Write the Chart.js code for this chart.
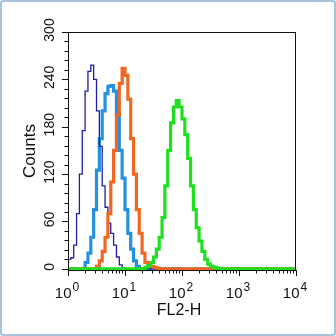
<!DOCTYPE html>
<html>
<head>
<meta charset="utf-8">
<script src="https://cdn.jsdelivr.net/npm/chart.js@4.4.0/dist/chart.umd.min.js"></script>
<style>
    html, body { margin: 0; padding: 0; background: #fff; }
    #wrap { position: relative; width: 336px; height: 336px; }
    #frame {
        position: absolute; left: 0; top: 0; width: 336px; height: 336px;
        box-sizing: border-box; border: 2px solid #a7c3de; border-radius: 3px;
        pointer-events: none;
    }
    canvas { position: absolute; left: 0; top: 0; }
</style>
</head>
<body>
<div id="wrap">
    <canvas id="chart" width="336" height="336"></canvas>
    <div id="frame"></div>
</div>
<script>
// Histogram bins: 80 bins of 0.05 decade from 10^0 to 10^4
const binCount = 80;
const binWidth = 0.05;

// Counts per bin, each series starting at a given bin index
const navyStart = 0;
const navyCounts = [12, 14, 30, 70, 120, 175, 225, 250, 258, 240, 200, 155, 105, 78, 58, 45, 30, 15, 5, 1];

const blueStart = 6;
const blueCounts = [8, 20, 40, 75, 125, 165, 200, 222, 231, 232, 225, 195, 150, 115, 75, 45, 25, 10, 3];

const orangeStart = 10;
const orangeCounts = [3, 10, 22, 40, 70, 110, 150, 195, 235, 254, 245, 215, 165, 120, 75, 45, 20, 8, 5, 3, 2, 1];

const greenStart = 27;
const greenCounts = [2, 4, 8, 15, 25, 40, 65, 105, 150, 185, 205, 213, 205, 190, 170, 140, 105, 75, 52, 35, 22, 12, 6, 3, 2, 1];

const yTicks = [0, 60, 120, 180, 240, 300];
const xDecades = [0, 1, 2, 3, 4];

const FONT = '"Liberation Sans", Arial, Helvetica, sans-serif';

function toPoints(start, counts) {
    const pts = [];
    for (let i = 0; i < binCount; i++) {
        const j = i - start;
        const y = (j >= 0 && j < counts.length) ? counts[j] : 0;
        pts.push({ x: Math.pow(10, (i + 0.5) * binWidth), y: y });
    }
    return pts;
}

// --- Axes, ticks and labels drawn from the chart's own scales ---
const axesPlugin = {
    id: 'flowAxes',
    afterDatasetsDraw(chart) {
        const ctx = chart.ctx;
        const area = chart.chartArea;
        const xs = chart.scales.x;
        const ys = chart.scales.y;
        ctx.save();
        ctx.strokeStyle = '#111';
        ctx.fillStyle = '#111';
        ctx.lineWidth = 1;

        // box
        ctx.strokeRect(area.left + 0.5, area.top + 0.5, area.right - area.left - 1, area.bottom - area.top);

        // x ticks (log, major at decades, minor 2..9)
        ctx.beginPath();
        xDecades.forEach(d => {
            const base = Math.pow(10, d);
            const px = Math.round(xs.getPixelForValue(base)) + 0.5;
            ctx.moveTo(px, area.bottom);
            ctx.lineTo(px, area.bottom + 6);
            if (d < 4) {
                for (let m = 2; m <= 9; m++) {
                    const mx = Math.round(xs.getPixelForValue(base * m)) + 0.5;
                    ctx.moveTo(mx, area.bottom);
                    ctx.lineTo(mx, area.bottom + 3.5);
                }
            }
        });
        // y ticks, major every 60, minor every 12
        for (let v = 0; v <= 300; v += 12) {
            const py = Math.round(ys.getPixelForValue(v)) + 0.5;
            const len = v % 60 === 0 ? 6 : 3.5;
            ctx.moveTo(area.left, py);
            ctx.lineTo(area.left - len, py);
        }
        ctx.stroke();

        // x tick labels: 10 with superscript exponent
        ctx.textBaseline = 'alphabetic';
        ctx.textAlign = 'left';
        xDecades.forEach(d => {
            const px = xs.getPixelForValue(Math.pow(10, d));
            ctx.font = '15px ' + FONT;
            const w1 = ctx.measureText('10').width;
            ctx.font = '12px ' + FONT;
            const w2 = ctx.measureText(String(d)).width;
            const x0 = px - (w1 + w2 + 1) / 2 - 1;
            ctx.font = '15px ' + FONT;
            ctx.fillText('10', x0, 298);
            ctx.font = '12px ' + FONT;
            ctx.fillText(String(d), x0 + w1 + 1, 291);
        });

        // y tick labels, rotated
        ctx.font = '14px ' + FONT;
        ctx.textAlign = 'center';
        yTicks.forEach(v => {
            const py = ys.getPixelForValue(v);
            ctx.save();
            ctx.translate(53.5, py - 2);
            ctx.rotate(-Math.PI / 2);
            ctx.fillText(String(v), 0, 0);
            ctx.restore();
        });

        // axis titles
        ctx.font = '16px ' + FONT;
        ctx.fillText('FL2-H', 179, 315);
        ctx.save();
        ctx.font = '17px ' + FONT;
        ctx.translate(35, 151);
        ctx.rotate(-Math.PI / 2);
        ctx.fillText('Counts', 0, 0);
        ctx.restore();

        ctx.restore();
    }
};

function series(label, start, counts, color, width) {
    return {
        label: label,
        data: toPoints(start, counts),
        borderColor: color,
        backgroundColor: color,
        borderWidth: width,
        pointRadius: 0,
        stepped: 'middle',
        fill: false
    };
}

new Chart(document.getElementById('chart'), {
    type: 'line',
    data: {
        datasets: [
            series('Green', greenStart, greenCounts, '#1fe01f', 3.2),
            series('Orange', orangeStart, orangeCounts, '#f2661f', 3.2),
            series('Navy', navyStart, navyCounts, '#1f1fa6', 1.3),
            series('Blue', blueStart, blueCounts, '#2490e2', 3.2)
        ]
    },
    options: {
        responsive: false,
        animation: false,
        layout: { padding: { left: 68, top: 32, right: 40, bottom: 66 } },
        plugins: { legend: { display: false }, tooltip: { enabled: false } },
        scales: {
            x: { type: 'logarithmic', min: 1, max: 10000, display: false },
            y: { type: 'linear', min: -1.5, max: 300, display: false }
        }
    },
    plugins: [axesPlugin]
});
</script>
</body>
</html>
